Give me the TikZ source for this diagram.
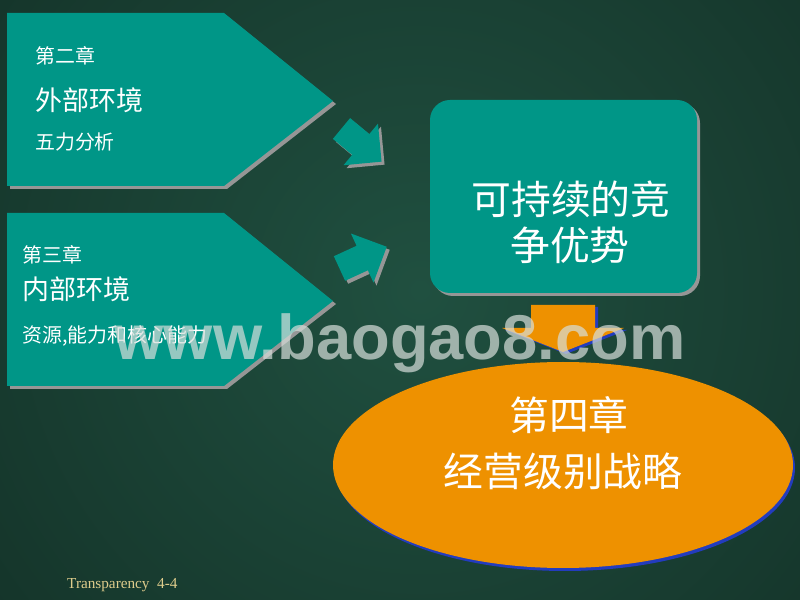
\documentclass[tikz,border=0pt]{standalone}
\usepackage{fontspec}
\newfontfamily\cjk{Noto Sans CJK SC}
\newfontfamily\wmfont{Liberation Sans}
\newfontfamily\trfont{Liberation Serif}
\usetikzlibrary{positioning,calc}
\definecolor{bgIn}{RGB}{32,80,64}
\definecolor{bgOut}{RGB}{13,34,27}
\definecolor{tealBox}{RGB}{0,150,135}
\definecolor{shGray}{RGB}{150,150,150}
\definecolor{orng}{RGB}{238,145,0}
\definecolor{blueEdge}{RGB}{35,60,190}
\definecolor{goldTxt}{RGB}{222,204,140}
\definecolor{wmGray}{RGB}{215,222,218}
\tikzstyle{tFill}=[fill=tealBox]
\tikzstyle{sFill}=[fill=shGray]
\tikzstyle{tS}=[text=white, font=\cjk\fontsize{17}{20}\selectfont, anchor=west, inner sep=0pt]
\tikzstyle{tM}=[text=white, font=\cjk\fontsize{23}{27}\selectfont, anchor=west, inner sep=0pt]
\tikzstyle{tL}=[text=white, font=\cjk\fontsize{34}{40}\selectfont, inner sep=0pt]
\newcommand{\pentPath}[1]{(7,#1) -- (224,#1) -- (333,#1+88) -- (224,#1+173) -- (7,#1+173) -- cycle}
\newcommand{\blkArrow}{(0,-13.5) -- (25,-13.5) -- (25,-27) -- (52,0) -- (25,27) -- (25,13.5) -- (0,13.5) -- cycle}

\begin{document}
\begin{tikzpicture}[x=0.03cm, y=-0.03cm]

                \useasboundingbox (0,0) rectangle (800,600);
                \begin{scope}
                    \clip (0,0) rectangle (800,600);
                    \fill[inner color=bgIn, outer color=bgOut] (420,290) circle (900);
                \end{scope}

                % left pentagons
                \fill[sFill, shift={(3,3)}] \pentPath{13};
                \fill[tFill] \pentPath{13};
                \fill[sFill, shift={(3,3)}] \pentPath{213};
                \fill[tFill] \pentPath{213};

                \draw (35,56) node[tS] (ch2) {第二章};
                \draw (35,100) node[tM] (ext) {外部环境};
                \draw (35,142) node[tS] (five) {五力分析};
                \draw (22,255) node[tS] (ch3) {第三章};
                \draw (22,289) node[tM] (int) {内部环境};
                \draw (22,336) node[tS] (res) {资源,能力和核心能力};

                % small arrows
                \fill[sFill, shift={(344.5,131.5)}, rotate=-39.6] \blkArrow;
                \fill[tFill, shift={(341.5,128.5)}, rotate=-39.6] \blkArrow;
                \fill[sFill, shift={(342.5,271.5)}, rotate=24.7] \blkArrow;
                \fill[tFill, shift={(339.5,268.5)}, rotate=24.7] \blkArrow;

                % advantage box
                \fill[sFill, rounded corners=0.6cm] (433,103) rectangle (700,296);
                \fill[tFill, rounded corners=0.6cm] (430,100) rectangle (697,293);
                \draw (571,199) node[tL] (adv1) {可持续的竞};
                \draw (570,245) node[tL] (adv2) {争优势};

                % orange arrow
                \fill[blueEdge, shift={(3,2)}] (531,305) -- (595,305) -- (595,328) -- (624,328) -- (563,352) -- (502,328) -- (531,328) -- cycle;
                \fill[orng] (531,305) -- (595,305) -- (595,328) -- (624,328) -- (563,352) -- (502,328) -- (531,328) -- cycle;

                % strategy ellipse
                \fill[blueEdge] (565,468) ellipse [x radius=230, y radius=103];
                \fill[orng] (563,465) ellipse [x radius=230, y radius=103];
                \draw (569,415) node[tL] (ch4) {第四章};
                \draw (563,471) node[tL] (strat) {经营级别战略};

                % watermark
                \draw (400,360) node[anchor=base, inner sep=0pt, text=wmGray, text opacity=0.7, font=\wmfont\bfseries\fontsize{54}{60}\selectfont] (wm) {www.baogao8.com};

                \draw (67,589) node[anchor=base west, inner sep=0pt, text=goldTxt, font=\trfont\fontsize{13}{15}\selectfont] (tr) {Transparency\ \ 4-4};

\end{tikzpicture}
\end{document}
